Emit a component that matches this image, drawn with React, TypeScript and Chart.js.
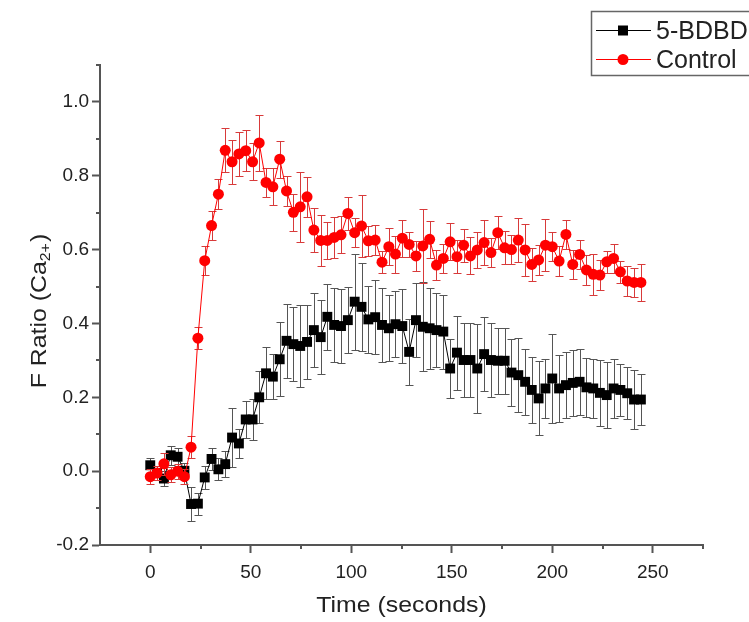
import React, { useEffect, useRef } from 'react';
import { Chart, registerables } from 'chart.js';

Chart.register(...registerables);

// ---- data ----
const times = [
  0, 3.4, 6.8, 10.2, 13.6, 17.0, 20.3, 23.7, 27.1, 30.5,
  33.9, 37.3, 40.7, 44.1, 47.5, 50.9, 54.2, 57.6, 61.0, 64.4,
  67.8, 71.2, 74.6, 78.0, 81.4, 84.8, 88.1, 91.5, 94.9, 98.3,
  101.7, 105.1, 108.5, 111.9, 115.3, 118.7, 122.0, 125.4, 128.8, 132.2,
  135.6, 139.0, 142.4, 145.8, 149.2, 152.6, 155.9, 159.3, 162.7, 166.1,
  169.5, 172.9, 176.3, 179.7, 183.1, 186.5, 189.8, 193.2, 196.6, 200.0,
  203.4, 206.8, 210.2, 213.6, 217.0, 220.4, 223.7, 227.1, 230.5, 233.9,
  237.3, 240.7, 244.1,
];

const bdbdValues = [
  0.016, -0.005, -0.02, 0.043, 0.039, 0.001, -0.089, -0.088, -0.017, 0.033,
  0.005, 0.019, 0.091, 0.075, 0.14, 0.14, 0.2, 0.265, 0.256, 0.303,
  0.353, 0.344, 0.339, 0.35, 0.382, 0.363, 0.418, 0.396, 0.393, 0.409,
  0.459, 0.445, 0.411, 0.417, 0.396, 0.387, 0.398, 0.393, 0.323, 0.409,
  0.391, 0.387, 0.382, 0.378, 0.278, 0.321, 0.301, 0.301, 0.278, 0.317,
  0.301, 0.299, 0.299, 0.267, 0.26, 0.242, 0.22, 0.197, 0.224, 0.251,
  0.224, 0.233, 0.239, 0.242, 0.227, 0.224, 0.212, 0.206, 0.224, 0.22,
  0.211, 0.194, 0.194,
];

const bdbdErrors = [
  0.02, 0.02, 0.02, 0.025, 0.025, 0.02, 0.045, 0.03, 0.03, 0.03,
  0.03, 0.035, 0.08, 0.04, 0.05, 0.055, 0.07, 0.07, 0.06, 0.1,
  0.1, 0.1, 0.11, 0.1, 0.1, 0.1, 0.09, 0.1, 0.1, 0.09,
  0.13, 0.12, 0.09, 0.1, 0.1, 0.09, 0.09, 0.1, 0.09, 0.1,
  0.12, 0.11, 0.1, 0.1, 0.08, 0.1, 0.1, 0.1, 0.12, 0.1,
  0.1, 0.09, 0.09, 0.09, 0.1, 0.09, 0.09, 0.1, 0.08, 0.12,
  0.09, 0.09, 0.09, 0.09, 0.08, 0.08, 0.09, 0.09, 0.08, 0.07,
  0.07, 0.08, 0.07,
];

const controlValues = [
  -0.015, -0.005, 0.02, -0.01, 0.0, -0.015, 0.065, 0.36, 0.57, 0.665,
  0.75, 0.869, 0.838, 0.859, 0.868, 0.838, 0.889, 0.782, 0.77, 0.845,
  0.759, 0.701, 0.716, 0.743, 0.653, 0.625, 0.625, 0.633, 0.64, 0.698,
  0.646, 0.664, 0.624, 0.626, 0.566, 0.608, 0.588, 0.631, 0.614, 0.583,
  0.61, 0.628, 0.558, 0.576, 0.621, 0.581, 0.612, 0.583, 0.599, 0.619,
  0.592, 0.646, 0.605, 0.6, 0.626, 0.599, 0.56, 0.572, 0.612, 0.608,
  0.569, 0.641, 0.56, 0.587, 0.545, 0.533, 0.531, 0.567, 0.576, 0.54,
  0.515, 0.511, 0.511,
];

const controlErrors = [
  0.02, 0.02, 0.03, 0.02, 0.02, 0.02, 0.03, 0.03, 0.04, 0.04,
  0.04, 0.06, 0.06, 0.06, 0.055, 0.05, 0.075, 0.04, 0.05, 0.05,
  0.04, 0.05, 0.095, 0.055, 0.06, 0.07, 0.05, 0.055, 0.05, 0.045,
  0.04, 0.085, 0.04, 0.04, 0.03, 0.05, 0.05, 0.05, 0.035, 0.04,
  0.1, 0.05, 0.04, 0.04, 0.05, 0.045, 0.045, 0.05, 0.05, 0.06,
  0.04, 0.045, 0.045, 0.04, 0.06, 0.07, 0.045, 0.04, 0.07, 0.04,
  0.04, 0.04, 0.04, 0.04, 0.04, 0.055, 0.04, 0.03, 0.04, 0.03,
  0.04, 0.04, 0.05,
];

const seriesNames = ['5-BDBD', 'Control'];
const xTitle = 'Time (seconds)';
const yTitleMain = 'F Ratio (Ca';
const yTitleSub = '2+';
const yTitleEnd = ')';
const xMajorTicks = [0, 50, 100, 150, 200, 250];
const yMajorTicks = [-0.2, 0.0, 0.2, 0.4, 0.6, 0.8, 1.0];
const xMinorTicks = [25, 75, 125, 175, 225, 275];
const yMinorTicks = [-0.1, 0.1, 0.3, 0.5, 0.7, 0.9, 1.1];

const FONT = '"Liberation Sans", Arial, sans-serif';
const AXIS_COLOR = '#555';

const errorBarPlugin = {
  id: 'errorBars',
  beforeDatasetDraw(chart: any, args: any) {
    const ds: any = chart.data.datasets[args.index];
    const errs: number[] = ds.errors;
    if (!errs) return;
    const xs = chart.scales.x;
    const ys = chart.scales.y;
    const ctx = chart.ctx;
    ctx.save();
    ctx.strokeStyle = ds.errorColor;
    ctx.lineWidth = 1;
    ds.data.forEach((p: any, i: number) => {
      const px = Math.round(xs.getPixelForValue(p.x)) + 0.5;
      const yt = Math.round(ys.getPixelForValue(p.y + errs[i])) + 0.5;
      const yb = Math.round(ys.getPixelForValue(p.y - errs[i])) + 0.5;
      ctx.beginPath();
      ctx.moveTo(px, yt);
      ctx.lineTo(px, yb);
      ctx.moveTo(px - 4, yt);
      ctx.lineTo(px + 4, yt);
      ctx.moveTo(px - 4, yb);
      ctx.lineTo(px + 4, yb);
      ctx.stroke();
    });
    ctx.restore();
  },
};

const decorPlugin = {
  id: 'decor',
  afterDraw(chart: any) {
    const ctx = chart.ctx;
    const xs = chart.scales.x;
    const ys = chart.scales.y;
    const area = chart.chartArea;
    ctx.save();
    // minor ticks
    ctx.strokeStyle = AXIS_COLOR;
    ctx.lineWidth = 2;
    ctx.beginPath();
    xMinorTicks.forEach((v) => {
      const px = Math.round(xs.getPixelForValue(v));
      ctx.moveTo(px, area.bottom);
      ctx.lineTo(px, area.bottom + 4);
    });
    yMinorTicks.forEach((v) => {
      const py = Math.round(ys.getPixelForValue(v));
      ctx.moveTo(area.left, py);
      ctx.lineTo(area.left - 4, py);
    });
    ctx.stroke();

    // x title
    ctx.fillStyle = '#222';
    ctx.save();
    ctx.translate((area.left + area.right) / 2, 612);
    ctx.scale(1.13, 1);
    ctx.font = `22px ${FONT}`;
    ctx.textAlign = 'center';
    ctx.textBaseline = 'alphabetic';
    ctx.fillText(xTitle, 0, 0);
    ctx.restore();

    // y title with subscript
    ctx.save();
    ctx.translate(46, 311);
    ctx.rotate(-Math.PI / 2);
    ctx.scale(1.13, 1);
    ctx.textAlign = 'left';
    ctx.textBaseline = 'alphabetic';
    ctx.font = `22px ${FONT}`;
    const w1 = ctx.measureText(yTitleMain).width;
    const w3 = ctx.measureText(yTitleEnd).width;
    ctx.font = `14px ${FONT}`;
    const w2 = ctx.measureText(yTitleSub).width;
    const total = w1 + w2 + w3 + 1;
    let cx = -total / 2;
    ctx.font = `22px ${FONT}`;
    ctx.fillText(yTitleMain, cx, 0);
    cx += w1;
    ctx.font = `14px ${FONT}`;
    ctx.fillText(yTitleSub, cx, 4);
    cx += w2 + 1;
    ctx.font = `22px ${FONT}`;
    ctx.fillText(yTitleEnd, cx, 0);
    ctx.restore();

    // legend
    ctx.strokeStyle = '#666';
    ctx.lineWidth = 1.5;
    ctx.strokeRect(591.5, 11.5, 200, 64);
    const rows = [30, 59];
    const colors = ['#000', '#f00'];
    rows.forEach((ry, i) => {
      ctx.strokeStyle = colors[i];
      ctx.lineWidth = 1;
      ctx.beginPath();
      ctx.moveTo(596, ry + 0.5);
      ctx.lineTo(651, ry + 0.5);
      ctx.stroke();
      ctx.fillStyle = colors[i];
      if (i === 0) {
        ctx.fillRect(618, ry - 4.5, 10, 10);
      } else {
        ctx.beginPath();
        ctx.arc(623, ry + 0.5, 5.5, 0, Math.PI * 2);
        ctx.fill();
      }
      ctx.fillStyle = '#222';
      ctx.font = `25px ${FONT}`;
      ctx.textAlign = 'left';
      ctx.textBaseline = 'alphabetic';
      ctx.fillText(seriesNames[i], 656, ry + 9);
    });
    ctx.restore();
  },
};

export default function App() {
  const ref = useRef<HTMLCanvasElement | null>(null);

  useEffect(() => {
    if (!ref.current) return;
    const bdbdData = times.map((t, i) => ({ x: t, y: bdbdValues[i] }));
    const controlData = times.map((t, i) => ({ x: t, y: controlValues[i] }));
    const tickFont = { family: FONT, size: 19 };
    const chart = new Chart(ref.current, {
      type: 'line',
      data: {
        datasets: [
          {
            label: seriesNames[0],
            data: bdbdData,
            borderColor: '#000',
            backgroundColor: '#000',
            borderWidth: 1,
            pointStyle: 'rect',
            pointRadius: 7,
            pointBorderWidth: 0,
            pointBackgroundColor: '#000',
            order: 2,
            errors: bdbdErrors,
            errorColor: '#555',
          } as any,
          {
            label: seriesNames[1],
            data: controlData,
            borderColor: '#f00',
            backgroundColor: '#f00',
            borderWidth: 1,
            pointStyle: 'circle',
            pointRadius: 5.5,
            pointBorderWidth: 0,
            pointBackgroundColor: '#f00',
            order: 1,
            errors: controlErrors,
            errorColor: '#d83a3a',
          } as any,
        ],
      },
      options: {
        animation: false,
        responsive: false,
        maintainAspectRatio: false,
        devicePixelRatio: 1,
        layout: { padding: { top: 65, right: 46, left: 0, bottom: 0 } },
        plugins: { legend: { display: false }, tooltip: { enabled: false } },
        scales: {
          x: {
            type: 'linear',
            min: -25,
            max: 275,
            afterBuildTicks: (s: any) => {
              s.ticks = xMajorTicks.map((v) => ({ value: v }));
            },
            afterFit: (s: any) => {
              s.height = 77;
            },
            ticks: {
              maxRotation: 0,
              autoSkip: false,
              padding: 8,
              color: '#222',
              font: tickFont,
              callback: (v: any) => String(v),
            },
            grid: {
              display: true,
              drawOnChartArea: false,
              drawTicks: true,
              tickLength: 8,
              tickColor: AXIS_COLOR,
              tickWidth: 2,
            },
            border: { display: true, color: AXIS_COLOR, width: 2 },
          },
          y: {
            type: 'linear',
            min: -0.2,
            max: 1.1,
            afterBuildTicks: (s: any) => {
              s.ticks = yMajorTicks.map((v) => ({ value: v }));
            },
            afterFit: (s: any) => {
              s.width = 100;
            },
            ticks: {
              autoSkip: false,
              padding: 3,
              color: '#222',
              font: tickFont,
              callback: (v: any) => Number(v).toFixed(1),
            },
            grid: {
              display: true,
              drawOnChartArea: false,
              drawTicks: true,
              tickLength: 8,
              tickColor: AXIS_COLOR,
              tickWidth: 2,
            },
            border: { display: true, color: AXIS_COLOR, width: 2 },
          },
        },
      },
      plugins: [errorBarPlugin, decorPlugin],
    } as any);
    return () => chart.destroy();
  }, []);

  return (
    <div style={{ position: 'absolute', left: 0, top: 0, width: 749, height: 622, background: '#fff' }}>
      <canvas ref={ref} width={749} height={622} style={{ display: 'block' }} />
    </div>
  );
}
